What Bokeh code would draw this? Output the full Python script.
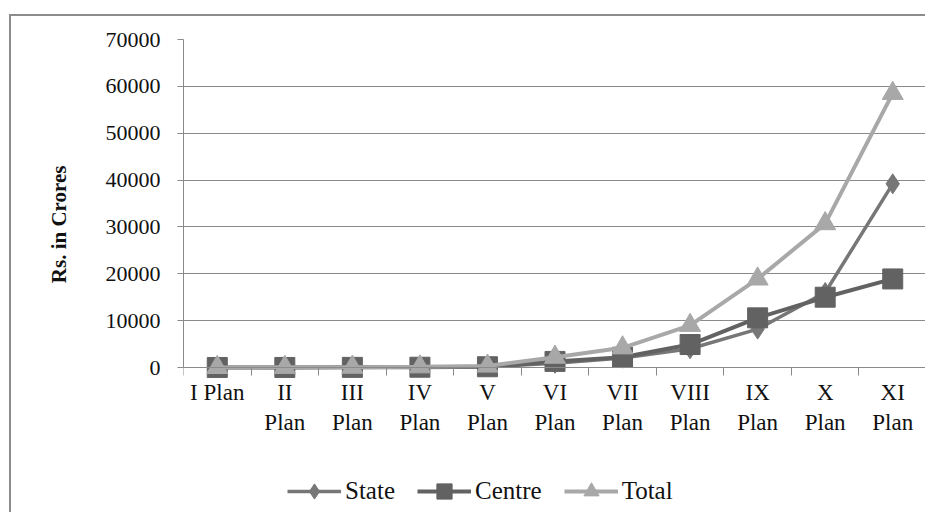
from bokeh.plotting import figure
from bokeh.models import (FixedTicker, Legend, LegendItem, ColumnDataSource,
                          Range1d, LinearAxis, Title)
from bokeh.embed import file_html
from bokeh.resources import INLINE

plans = ["I Plan", "II\nPlan", "III\nPlan", "IV\nPlan", "V\nPlan", "VI\nPlan",
         "VII\nPlan", "VIII\nPlan", "IX\nPlan", "X\nPlan", "XI\nPlan"]
state = [10, 20, 40, 90, 150, 900, 2000, 4000, 8200, 16000, 39200]
centre = [5, 10, 30, 60, 160, 1300, 2200, 4900, 10600, 15000, 18900]
total = [15, 30, 70, 150, 310, 2200, 4200, 9000, 18900, 30700, 58500]
y_ticks = [0, 10000, 20000, 30000, 40000, 50000, 60000, 70000]

xpos = [i + 0.5 for i in range(len(plans))]
src = ColumnDataSource(dict(x=xpos, state=state, centre=centre, total=total))

FONT = "Liberation Serif"
H = 498
TOP, ZERO = 23, 351                      # frame top / zero line (canvas px)
ppu = (ZERO - TOP) / y_ticks[-1]         # pixels per unit
ybottom = -(H - ZERO) / ppu              # range extends below zero for legend room

p = figure(width=916, height=H, output_backend="svg", toolbar_location=None,
           x_range=Range1d(0, len(plans)), y_range=Range1d(ybottom, y_ticks[-1]),
           x_axis_location=None,
           min_border_left=172, min_border_right=1, min_border_top=TOP,
           min_border_bottom=0)
p.styles = {"border-top": "2px solid #8c8c8c", "border-left": "2px solid #8c8c8c",
            "margin-left": "9px", "margin-top": "14px"}
p.outline_line_color = None
p.background_fill_color = "white"
p.border_fill_color = "white"

p.xgrid.visible = False
p.ygrid.grid_line_color = "#8a8a8a"
p.ygrid.grid_line_width = 1

# y axis
p.yaxis.ticker = FixedTicker(ticks=y_ticks)
p.yaxis.bounds = (0, y_ticks[-1])
p.yaxis.axis_line_color = "#8a8a8a"
p.yaxis.major_tick_line_color = "#8a8a8a"
p.yaxis.major_tick_out = 6
p.yaxis.major_tick_in = 0
p.yaxis.minor_tick_line_color = None
p.yaxis.major_label_text_font = FONT
p.yaxis.major_label_text_font_size = "22px"
p.yaxis.major_label_text_color = "#111111"
p.yaxis.major_label_standoff = 17

ytitle = Title(text="Rs. in Crores", align="right", offset=126,
               text_font=FONT, text_font_style="bold", text_font_size="21px",
               text_color="#111111", standoff=63)
p.add_layout(ytitle, "left")

# x axis drawn at y = 0 inside the frame
xa = LinearAxis(fixed_location=0)
xa.ticker = FixedTicker(ticks=xpos, minor_ticks=list(range(len(plans) + 1)))
xa.major_label_overrides = {x: lab for x, lab in zip(xpos, plans)}
xa.axis_line_color = "#8a8a8a"
xa.major_tick_line_color = None
xa.minor_tick_line_color = "#8a8a8a"
xa.minor_tick_out = 8
xa.minor_tick_in = 0
xa.major_label_text_font = FONT
xa.major_label_text_font_size = "23px"
xa.major_label_text_color = "#111111"
xa.major_label_standoff = 4
p.add_layout(xa, "below")

c_state, c_centre, c_total = "#777777", "#626262", "#a8a8a8"

ls = p.line("x", "state", source=src, line_color=c_state, line_width=3.5)
ms = p.scatter("x", "state", source=src, marker="diamond", size=20,
               fill_color=c_state, line_color=c_state)
lc = p.line("x", "centre", source=src, line_color=c_centre, line_width=4)
mc = p.scatter("x", "centre", source=src, marker="square", size=20,
               fill_color=c_centre, line_color=c_centre)
lt = p.line("x", "total", source=src, line_color=c_total, line_width=4)
mt = p.scatter("x", "total", source=src, marker="triangle", size=21,
               fill_color=c_total, line_color=c_total)

legend = Legend(items=[LegendItem(label="State", renderers=[ls, ms]),
                       LegendItem(label="Centre", renderers=[lc, mc]),
                       LegendItem(label="Total", renderers=[lt, mt])],
                orientation="horizontal", location=(104, 4),
                glyph_width=54, glyph_height=38, label_standoff=4, spacing=22,
                padding=0, margin=0, border_line_color=None,
                background_fill_alpha=0,
                label_text_font=FONT, label_text_font_size="25px",
                label_text_color="#111111")
p.add_layout(legend, "center")

open("out.html", "w").write(file_html(p, INLINE))
